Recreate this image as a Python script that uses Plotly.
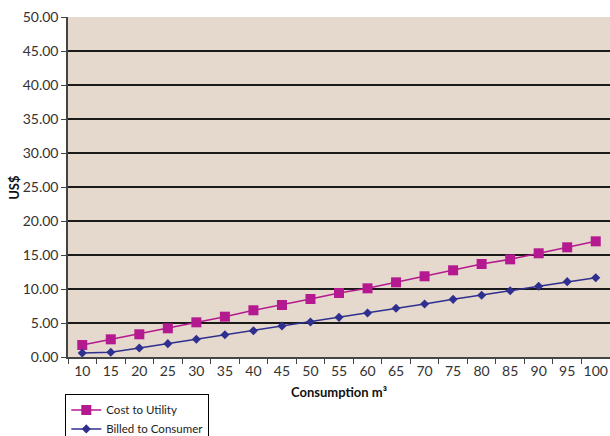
import plotly.graph_objects as go

consumption = [10, 15, 20, 25, 30, 35, 40, 45, 50, 55, 60, 65, 70, 75, 80, 85, 90, 95, 100]
cost_to_utility = [1.76, 2.60, 3.34, 4.22, 5.10, 5.93, 6.87, 7.65, 8.53, 9.41, 10.10,
                   10.98, 11.87, 12.75, 13.68, 14.36, 15.25, 16.13, 17.01]
billed_to_consumer = [0.59, 0.69, 1.32, 1.96, 2.60, 3.28, 3.87, 4.56, 5.15, 5.83, 6.47,
                      7.16, 7.79, 8.48, 9.07, 9.75, 10.40, 11.08, 11.66]
y_ticks = [0, 5, 10, 15, 20, 25, 30, 35, 40, 45, 50]

cats = [str(c) for c in consumption]
font_family = "Lato, 'Open Sans', sans-serif"

fig = go.Figure()
fig.add_trace(go.Scatter(
    x=cats, y=cost_to_utility, name="Cost to Utility",
    mode="lines+markers",
    line=dict(color="#B5198F", width=1.5),
    marker=dict(symbol="square", size=10, color="#B5198F"),
))
fig.add_trace(go.Scatter(
    x=cats, y=billed_to_consumer, name="Billed to Consumer",
    mode="lines+markers",
    line=dict(color="#2E2F8F", width=1.5),
    marker=dict(symbol="diamond", size=7, color="#2E2F8F"),
))

# vertical axis title, placed just left of the tick labels
fig.add_annotation(
    text="<b>US$</b>", textangle=-90,
    xref="paper", yref="paper", x=-0.1, y=0.5,
    xanchor="center", yanchor="middle", showarrow=False,
    font=dict(size=13, color="#111111"),
)

fig.update_layout(
    width=610, height=436,
    margin=dict(l=68, r=0, t=17, b=79, autoexpand=False),
    paper_bgcolor="white",
    plot_bgcolor="#E5D8CD",
    font=dict(family=font_family, size=13, color="#333333"),
    showlegend=True,
    legend=dict(
        x=-0.005, y=-0.11, xanchor="left", yanchor="top",
        bordercolor="black", borderwidth=1, bgcolor="white",
        font=dict(size=11.5, color="#222222"),
        itemwidth=30, tracegroupgap=0,
    ),
    xaxis=dict(
        type="category", automargin=False,
        range=[-0.5, len(cats) - 0.5],
        title=dict(text="<b>Consumption m³</b>", font=dict(size=13, color="#111111"), standoff=10),
        tickson="boundaries", ticks="outside", ticklen=5, tickcolor="#444444",
        tickangle=0,
        showline=True, linecolor="#444444", linewidth=1.5,
        showgrid=False, tickfont=dict(size=14, color="#333333"),
    ),
    yaxis=dict(
        automargin=False,
        range=[0, 50], tickvals=y_ticks,
        ticktext=[f"{v:.2f}" for v in y_ticks],
        ticks="outside", ticklen=5, tickcolor="#444444",
        showline=True, linecolor="#444444", linewidth=1.5,
        showgrid=True, gridcolor="#1a1a1a", gridwidth=1.5,
        zeroline=False, tickfont=dict(size=14, color="#333333"),
    ),
)

fig.write_html("out.html")
